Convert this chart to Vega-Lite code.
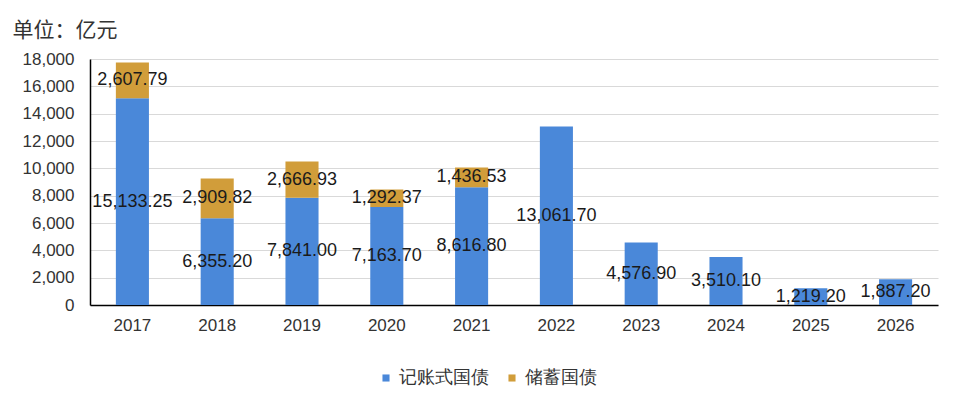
{
  "$schema": "https://vega.github.io/schema/vega-lite/v6.json",
  "width": 848,
  "height": 246,
  "autosize": {"type": "none"},
  "padding": {"left": 90, "top": 59, "right": 26, "bottom": 90},
  "background": "white",
  "config": {
    "font": "Liberation Sans",
    "view": {"stroke": null}
  },
  "data": {
    "values": [
      {"year": "2017", "type": "记账式国债", "value": 15133.25},
      {"year": "2018", "type": "记账式国债", "value": 6355.20},
      {"year": "2019", "type": "记账式国债", "value": 7841.00},
      {"year": "2020", "type": "记账式国债", "value": 7163.70},
      {"year": "2021", "type": "记账式国债", "value": 8616.80},
      {"year": "2022", "type": "记账式国债", "value": 13061.70},
      {"year": "2023", "type": "记账式国债", "value": 4576.90},
      {"year": "2024", "type": "记账式国债", "value": 3510.10},
      {"year": "2025", "type": "记账式国债", "value": 1219.20},
      {"year": "2026", "type": "记账式国债", "value": 1887.20},
      {"year": "2017", "type": "储蓄国债", "value": 2607.79},
      {"year": "2018", "type": "储蓄国债", "value": 2909.82},
      {"year": "2019", "type": "储蓄国债", "value": 2666.93},
      {"year": "2020", "type": "储蓄国债", "value": 1292.37},
      {"year": "2021", "type": "储蓄国债", "value": 1436.53}
    ]
  },
  "transform": [
    {"stack": "value", "groupby": ["year"], "sort": [{"field": "type", "order": "descending"}], "as": ["v0", "v1"]}
  ],
  "encoding": {
    "x": {
      "field": "year", "type": "nominal",
      "scale": {"paddingInner": 0.61, "paddingOuter": 0.305},
      "axis": {"title": null, "labelAngle": 0, "labelFontSize": 17, "labelColor": "#333333", "labelPadding": 12, "ticks": false, "domainColor": "#000000", "domainWidth": 1.5}
    }
  },
  "layer": [
    {
      "mark": {"type": "bar"},
      "encoding": {
        "y": {
          "field": "v0", "type": "quantitative",
          "scale": {"domain": [0, 18000], "nice": false},
          "axis": {
            "values": [0, 2000, 4000, 6000, 8000, 10000, 12000, 14000, 16000, 18000],
            "format": ",d", "labelOverlap": false,
            "labelFontSize": 17, "labelColor": "#333333", "labelPadding": 16,
            "ticks": false, "domainColor": "#000000", "domainWidth": 1.5,
            "gridColor": "#D9D9D9", "gridWidth": 1,
            "title": "单位：亿元", "titleAngle": 0, "titleAlign": "left", "titleBaseline": "alphabetic",
            "titleX": -78, "titleY": -23, "titleFont": "Noto Sans CJK SC", "titleFontSize": 21, "titleFontWeight": "normal", "titleColor": "#333333"
          }
        },
        "y2": {"field": "v1"},
        "color": {
          "field": "type", "type": "nominal",
          "scale": {"domain": ["记账式国债", "储蓄国债"], "range": ["#4A88D9", "#D19D3A"]},
          "legend": {
            "title": null, "orient": "none", "direction": "horizontal",
            "legendX": 287, "legendY": 310,
            "symbolType": "square", "symbolSize": 50, "symbolStrokeWidth": 0,
            "labelFontSize": 18, "labelColor": "#333333", "columnPadding": 14
          }
        }
      }
    },
    {
      "transform": [
        {"fold": ["v0", "v1"], "as": ["edge", "pos"]},
        {"aggregate": [{"op": "mean", "field": "pos", "as": "mid"}], "groupby": ["year", "type", "value"]}
      ],
      "mark": {"type": "text", "fontSize": 18, "color": "#1a1a1a", "baseline": "middle", "align": "center"},
      "encoding": {
        "y": {
          "field": "mid", "type": "quantitative",
          "scale": {"domain": [0, 18000], "nice": false},
          "axis": {
            "values": [0, 2000, 4000, 6000, 8000, 10000, 12000, 14000, 16000, 18000],
            "format": ",d", "labelOverlap": false,
            "labelFontSize": 17, "labelColor": "#333333", "labelPadding": 16,
            "ticks": false, "domainColor": "#000000", "domainWidth": 1.5,
            "gridColor": "#D9D9D9", "gridWidth": 1,
            "title": "单位：亿元", "titleAngle": 0, "titleAlign": "left", "titleBaseline": "alphabetic",
            "titleX": -78, "titleY": -23, "titleFont": "Noto Sans CJK SC", "titleFontSize": 21, "titleFontWeight": "normal", "titleColor": "#333333"
          }
        },
        "text": {"field": "value", "type": "quantitative", "format": ",.2f"}
      }
    }
  ]
}
